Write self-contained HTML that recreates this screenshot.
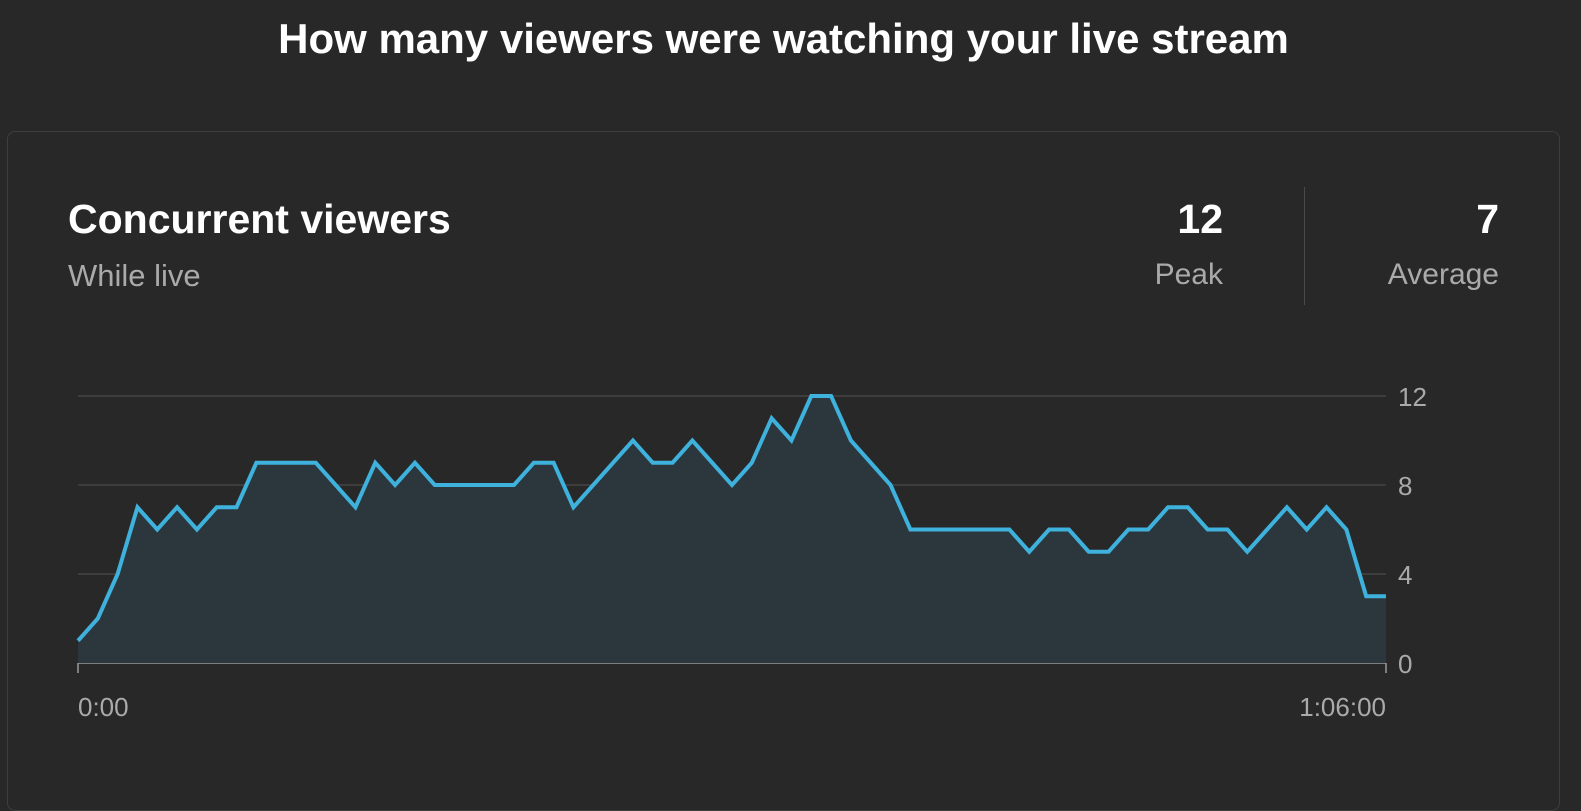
<!DOCTYPE html>
<html><head><meta charset="utf-8"><style>
html,body{margin:0;padding:0;background:#282828;width:1581px;height:774px;overflow:hidden;font-family:"Liberation Sans",sans-serif;}
.t{position:absolute;white-space:nowrap;}
</style></head><body>
<div class="t" style="left:0;width:1567px;text-align:center;top:15px;font-size:42px;color:#fff;font-weight:bold;letter-spacing:0px">How many viewers were watching your live stream</div>
<div style="position:absolute;left:7px;top:131px;width:1553px;height:680px;border:1px solid #3e3e3e;border-radius:8px;box-sizing:border-box"></div>
<div class="t" style="left:68px;top:196px;font-size:41px;color:#fff;font-weight:bold;letter-spacing:0px">Concurrent viewers</div>
<div class="t" style="left:68px;top:258px;font-size:31px;color:#aaa">While live</div>
<div class="t" style="right:358px;top:196px;font-size:41px;color:#fff;font-weight:bold">12</div>
<div class="t" style="right:358px;top:258px;font-size:30px;color:#aaa">Peak</div>
<div style="position:absolute;left:1304px;top:187px;width:1px;height:118px;background:#4a4a4a"></div>
<div class="t" style="right:82px;top:196px;font-size:41px;color:#fff;font-weight:bold">7</div>
<div class="t" style="right:82px;top:258px;font-size:30px;color:#aaa">Average</div>
<svg id="chart" style="position:absolute;left:0;top:0" width="1581" height="774"></svg>
<script>
const values=[1,2,4,7,6,7,6,7,7,9,9,9,9,8,7,9,8,9,8,8,8,8,8,9,9,7,8,9,10,9,9,10,9,8,9,11,10,12,12,10,9,8,6,6,6,6,6,6,5,6,6,5,5,6,6,7,7,6,6,5,6,7,6,7,6,3,3];
const yTicks=[0,4,8,12];
const xLabels=["0:00","1:06:00"];
const svg=document.getElementById('chart');
const NS='http://www.w3.org/2000/svg';
const x0=78,x1=1386,yb=663,yt=396,ymax=12;
const X=i=>x0+(x1-x0)*i/(values.length-1);
const Y=v=>yb-(yb-yt)*v/ymax;
function mk(t,a){const e=document.createElementNS(NS,t);for(const k in a)e.setAttribute(k,a[k]);svg.appendChild(e);return e;}
yTicks.forEach(v=>{
  const l=mk('line',{x1:x0,x2:x1,y1:Y(v),y2:Y(v),stroke:v===0?'#9a9a9a':'#444','stroke-width':1.5});
  
  
  const t=mk('text',{x:1398,y:Y(v)+10,fill:'#aaa','font-size':26,'font-family':'Liberation Sans, sans-serif'});
  t.textContent=v;
  
  
});
let pts=values.map((v,i)=>X(i)+','+Y(v)).join(' ');
const area=mk('polygon',{points:x0+','+yb+' '+pts+' '+x1+','+yb,fill:'#2b373d'});


const line=mk('polyline',{points:pts,fill:'none',stroke:'#3eb1dc','stroke-width':4,'stroke-linejoin':'miter'});


[[x0,'start',xLabels[0]],[x1,'end',xLabels[1]]].forEach(([x,a,s])=>{
  const tk=mk('line',{x1:x,x2:x,y1:yb,y2:yb+10,stroke:'#9a9a9a','stroke-width':1.5});
  
  
  const t=mk('text',{x:x,y:716,'text-anchor':a,fill:'#aaa','font-size':26,'font-family':'Liberation Sans, sans-serif'});
  t.textContent=s;
  
  
});
</script>
</body></html>
